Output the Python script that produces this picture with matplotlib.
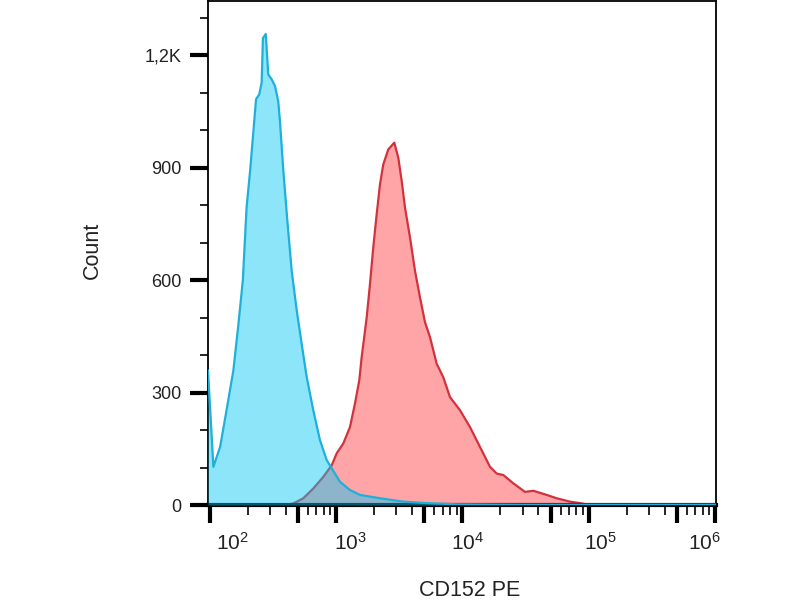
import numpy as np
import matplotlib
matplotlib.use("Agg")
import matplotlib.pyplot as plt
from matplotlib.ticker import FixedLocator, NullFormatter
import matplotlib.transforms as mtransforms

plt.rcParams['font.family'] = ['Liberation Sans', 'DejaVu Sans']
plt.rcParams['mathtext.fontset'] = 'custom'
plt.rcParams['mathtext.rm'] = 'Liberation Sans'
plt.rcParams['mathtext.it'] = 'Liberation Sans:italic'
plt.rcParams['mathtext.bf'] = 'Liberation Sans:bold'

# Isotype control (blue)
blue_x = [97, 107, 121, 136, 154, 168, 183, 196, 209, 222, 233, 247, 258, 264, 278,
          291, 310, 329, 349, 360, 383, 412, 446, 489, 535, 586, 661, 747, 844, 925,
          1076, 1291, 1549, 2231, 3412, 5225, 9030, 30000, 200000, 1020000]
blue_y = [359, 102, 155, 253, 359, 475, 599, 794, 892, 998, 1083, 1096, 1127, 1246, 1257,
          1149, 1136, 1118, 1078, 1025, 892, 759, 625, 519, 430, 342, 253, 173, 120, 98,
          62, 40, 27, 18, 9, 5, 2, 1, 1, 1]

# CD152 PE stained (red)
red_x = [385, 459, 551, 661, 793, 925, 1013, 1142, 1291, 1414, 1530, 1598, 1751, 1859,
         1974, 2100, 2231, 2369, 2595, 2895, 3114, 3313, 3518, 3855, 4222, 4626, 5066,
         5550, 6270, 7073, 7991, 9589, 11508, 13807, 16571, 18729, 21117, 25340, 31360,
         36490, 46580, 55890, 71250, 85500, 102600]
red_y = [0, 4, 18, 44, 75, 106, 138, 164, 208, 271, 333, 395, 501, 590,
         688, 776, 856, 909, 949, 967, 927, 865, 794, 714, 625, 554, 488,
         448, 377, 341, 288, 253, 208, 155, 102, 84, 80, 58, 35,
         38, 27, 18, 9, 5, 0]

x_major = [1e2, 5e2, 1e3, 5e3, 1e4, 5e4, 1e5, 5e5, 1e6]
x_labels = ['$10^{2}$', '', '$10^{3}$', '', '$10^{4}$', '', '$10^{5}$', '', '$10^{6}$']
y_major = [0, 300, 600, 900, 1200]
y_labels = ['0', '300', '600', '900', '1,2K']

fig = plt.figure(figsize=(8, 6), dpi=100)
ax = fig.add_axes([0.26, 0.1583, 0.635, 0.84])

ax.fill_between(red_x, red_y, 0, color='#FFA5A8', lw=0, zorder=1)
ax.plot(red_x, red_y, color='#D2323C', lw=1.6, zorder=2)
ax.fill_between(blue_x, blue_y, 0, color='#02C7F4', alpha=0.45, lw=0, zorder=3)
ax.plot(blue_x, blue_y, color='#1EB0DA', lw=1.6, zorder=4)

ax.set_xscale('log')
ax.set_xlim(97, 1.02e6)
ax.set_ylim(0, 1345)

# x ticks
ax.xaxis.set_major_locator(FixedLocator(x_major))
ax.set_xticklabels(x_labels, fontsize=15, color='#222222')
minors = []
for d in [1e2, 1e3, 1e4, 1e5]:
    for m in [2, 3, 4, 6, 7, 8, 9]:
        minors.append(m * d)
ax.xaxis.set_minor_locator(FixedLocator(minors))
ax.xaxis.set_minor_formatter(NullFormatter())
ax.tick_params(axis='x', which='major', length=13, width=3, direction='out', pad=6, color='black')
ax.tick_params(axis='x', which='minor', length=7, width=1.2, direction='out', color='black')

# shift x labels slightly as in the reference
offsets = [23, 0, 14, 0, 5, 0, 12, 0, -10]
for lab, off in zip(ax.get_xticklabels(), offsets):
    lab.set_transform(lab.get_transform() + mtransforms.ScaledTranslation(off / 100, 0, fig.dpi_scale_trans))

# y ticks
ax.set_yticks(y_major)
ax.set_yticklabels(y_labels, fontsize=13, color='#222222')
ax.yaxis.set_minor_locator(FixedLocator([v for v in range(100, 1345, 100) if v % 300 != 0]))
ax.tick_params(axis='y', which='major', length=13, width=3, direction='out', pad=6, color='black')
ax.tick_params(axis='y', which='minor', length=6, width=1.2, direction='out', color='black')

for s in ['top', 'left', 'right']:
    ax.spines[s].set_linewidth(1.3)
    ax.spines[s].set_color('black')
ax.spines['bottom'].set_linewidth(3)
ax.spines['bottom'].set_color('black')

fig.text(92 / 800, 1 - 250 / 600, 'Count', rotation=90, ha='center', va='center',
         fontsize=15.5, color='#222222')
fig.text(470 / 800, 1 - 590 / 600, 'CD152 PE', ha='center', va='center',
         fontsize=15.5, color='#222222')

fig.savefig('out.png', dpi=100)
